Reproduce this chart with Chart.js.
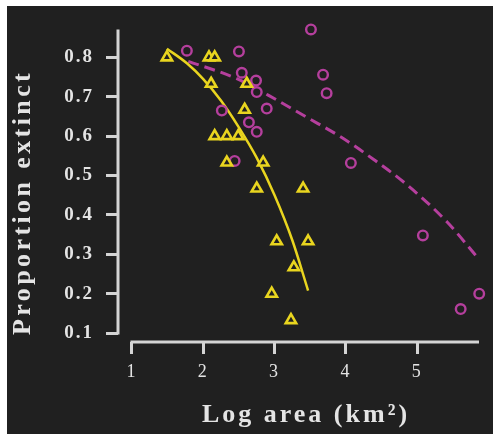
<!DOCTYPE html>
<html>
<head>
<meta charset="utf-8">
<script src="https://cdn.jsdelivr.net/npm/chart.js@4.4.1/dist/chart.umd.min.js"></script>
<style>
  html, body { margin: 0; padding: 0; background: #fff; }
  #wrap { position: absolute; left: 7px; top: 6px; width: 486px; height: 428px; background: #202020; }
</style>
</head>
<body>
<div id="wrap"><canvas id="grafico"></canvas></div>
<script>
// ===== data =====
const xTicks = [1, 2, 3, 4, 5];
const yTicks = [0.1, 0.2, 0.3, 0.4, 0.5, 0.6, 0.7, 0.8];

// triangles (yellow)
const triX = [1.49, 2.08, 2.16, 2.11, 2.61, 2.58, 2.16, 2.33, 2.49, 2.33, 2.75, 2.84, 3.40, 3.03, 3.47, 3.27, 2.96, 3.23];
const triY = [0.800, 0.800, 0.800, 0.733, 0.733, 0.667, 0.600, 0.600, 0.600, 0.533, 0.467, 0.533, 0.467, 0.333, 0.333, 0.267, 0.200, 0.133];

// circles (magenta)
const circX = [1.77, 2.50, 2.54, 2.74, 2.75, 2.26, 2.64, 2.75, 2.44, 3.51, 3.68, 3.73, 2.89, 4.07, 5.08, 5.87, 5.61];
const circY = [0.817, 0.815, 0.761, 0.741, 0.712, 0.665, 0.635, 0.611, 0.537, 0.871, 0.756, 0.709, 0.670, 0.532, 0.348, 0.200, 0.161];

// fitted curves
const fitTriX = [1.49, 1.77, 2.00, 2.25, 2.49, 2.75, 3.00, 3.25, 3.47];
const fitTriY = [0.822, 0.785, 0.745, 0.690, 0.625, 0.545, 0.450, 0.335, 0.208];
const fitCircX = [1.79, 2.47, 2.91, 3.45, 3.92, 4.38, 4.86, 5.42, 5.85];
const fitCircY = [0.790, 0.746, 0.704, 0.648, 0.599, 0.542, 0.476, 0.382, 0.291];

const xTitle = "Log area (km²)";
const yTitle = "Proportion extinct";

// ===== styles =====
const BG = "#202020";
const YEL = "#e9d51f";
const MAG = "#b53f9d";
const AX = "#d4d4d4";
const TXT = "#e4e4e4";
const SERIF = "'Liberation Serif', 'DejaVu Serif', serif";

const pts = (xs, ys) => xs.map((x, i) => ({ x: x, y: ys[i] }));

// offset axis lines + axis titles
const eixos = {
  id: "eixos",
  beforeDraw(chart) {
    chart.ctx.letterSpacing = "2px";
  },
  beforeDatasetsDraw(chart) {
    const { ctx, chartArea: a } = chart;
    const sx = chart.scales.x, sy = chart.scales.y;
    ctx.save();
    ctx.strokeStyle = AX;
    ctx.lineWidth = 3;
    ctx.beginPath();
    ctx.moveTo(a.left, a.top);
    ctx.lineTo(a.left, sy.getPixelForValue(yTicks[0]) + 1.5);
    ctx.moveTo(sx.getPixelForValue(xTicks[0]) - 1.5, a.bottom);
    ctx.lineTo(a.right, a.bottom);
    ctx.stroke();
    ctx.restore();
  },
  afterDraw(chart) {
    const { ctx, chartArea: a } = chart;
    ctx.save();
    ctx.fillStyle = TXT;
    ctx.font = "bold 26px " + SERIF;
    ctx.letterSpacing = "3px";
    ctx.textAlign = "center";
    ctx.textBaseline = "alphabetic";
    ctx.fillText(xTitle, a.left + 188, a.bottom + 80);
    ctx.letterSpacing = "3.4px";
    ctx.translate(23, a.top + 173);
    ctx.rotate(-Math.PI / 2);
    ctx.fillText(yTitle, 0, 0);
    ctx.restore();
    ctx.letterSpacing = "0px";
  }
};

new Chart(document.getElementById("grafico"), {
  type: "scatter",
  data: {
    datasets: [
      {
        data: pts(triX, triY),
        pointStyle: "triangle",
        pointRadius: 6,
        borderWidth: 2.6,
        borderColor: YEL,
        backgroundColor: BG,
        clip: false,
        order: 0
      },
      {
        data: pts(circX, circY),
        pointStyle: "circle",
        pointRadius: 4.8,
        borderWidth: 2.4,
        borderColor: MAG,
        backgroundColor: BG,
        clip: false,
        order: 0
      },
      {
        data: pts(fitTriX, fitTriY),
        showLine: true,
        pointRadius: 0,
        borderColor: YEL,
        borderWidth: 2.5,
        cubicInterpolationMode: "monotone",
        clip: false,
        order: 1
      },
      {
        data: pts(fitCircX, fitCircY),
        showLine: true,
        pointRadius: 0,
        borderColor: MAG,
        borderWidth: 3,
        borderDash: [11, 6],
        cubicInterpolationMode: "monotone",
        clip: false,
        order: 1
      }
    ]
  },
  options: {
    responsive: true,
    maintainAspectRatio: false,
    animation: false,
    events: [],
    layout: { padding: { top: 13, right: 14, left: 0, bottom: 0 } },
    plugins: { legend: { display: false }, tooltip: { enabled: false } },
    scales: {
      x: {
        type: "linear",
        min: 0.804,
        max: 5.867,
        afterBuildTicks: (s) => { s.ticks = xTicks.map((v) => ({ value: v })); },
        afterFit: (s) => { s.height = 92; },
        border: { display: false },
        grid: { drawOnChartArea: false, drawTicks: true, tickLength: 12, color: AX, lineWidth: 3 },
        ticks: {
          color: TXT,
          padding: 7,
          maxRotation: 0,
          autoSkip: false,
          font: { family: SERIF, size: 18 },
          callback: (v) => String(v)
        }
      },
      y: {
        type: "linear",
        min: 0.0774,
        max: 0.871,
        afterBuildTicks: (s) => { s.ticks = yTicks.map((v) => ({ value: v })); },
        afterFit: (s) => { s.width = 111; },
        border: { display: false },
        grid: { drawOnChartArea: false, drawTicks: true, tickLength: 12, color: AX, lineWidth: 3 },
        ticks: {
          color: TXT,
          padding: 12,
          autoSkip: false,
          font: { family: SERIF, size: 19, weight: "bold" },
          callback: (v) => v.toFixed(1)
        }
      }
    }
  },
  plugins: [eixos]
});
</script>
</body>
</html>
